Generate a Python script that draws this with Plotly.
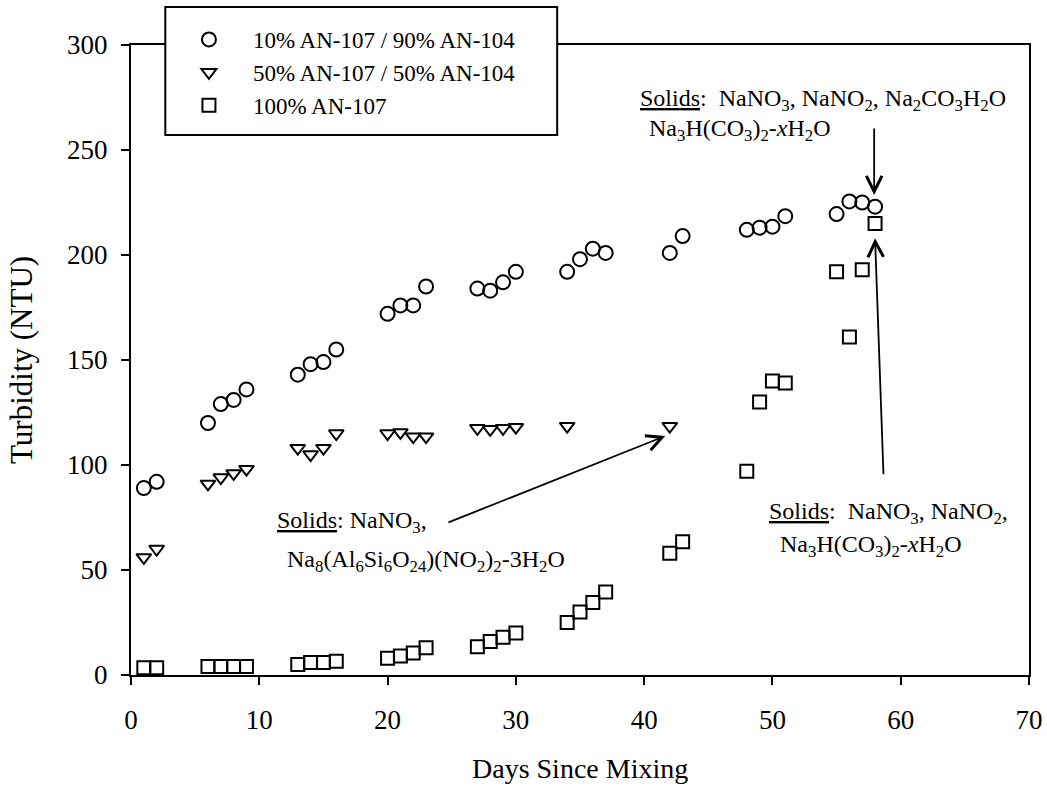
import plotly.graph_objects as go

# ---------------- data ----------------
days_10 = [1, 2, 6, 7, 8, 9, 13, 14, 15, 16, 20, 21, 22, 23, 27, 28, 29, 30,
           34, 35, 36, 37, 42, 43, 48, 49, 50, 51, 55, 56, 57, 58]
turb_10 = [89, 92, 120, 129, 131, 136, 143, 148, 149, 155, 172, 176, 176, 185,
           184, 183, 187, 192, 192, 198, 203, 201, 201, 209, 212, 213, 213.5,
           218.5, 219.5, 225.5, 225, 223]

days_50 = [1, 2, 6, 7, 8, 9, 13, 14, 15, 16, 20, 21, 22, 23, 27, 28, 29, 30,
           34, 42]
turb_50 = [56, 60, 91, 94, 96, 98, 108, 105, 108, 115, 115, 115.5, 113.5,
           113.5, 117.5, 117, 117.5, 118, 118.5, 118.5]

days_100 = [1, 2, 6, 7, 8, 9, 13, 14, 15, 16, 20, 21, 22, 23, 27, 28, 29, 30,
            34, 35, 36, 37, 42, 43, 48, 49, 50, 51, 55, 56, 57, 58]
turb_100 = [3.5, 3.5, 4, 4, 4, 4, 5, 6, 6, 6.5, 8, 9, 10.5, 13, 13.5, 16, 18,
            20, 25, 30, 34.5, 39.5, 58, 63.5, 97, 130, 140, 139, 192, 161,
            193, 215]

names = ["10% AN-107 / 90% AN-104", "50% AN-107 / 50% AN-104", "100% AN-107"]

x_ticks = [0, 10, 20, 30, 40, 50, 60, 70]
y_ticks = [0, 50, 100, 150, 200, 250, 300]

FONT = "Liberation Serif, Times New Roman, serif"

fig = go.Figure()
fig.add_trace(go.Scatter(x=days_10, y=turb_10, mode="markers", name=names[0],
                         cliponaxis=False,
                         marker=dict(symbol="circle-open", size=14, color="black",
                                     line=dict(width=2, color="black"))))
fig.add_trace(go.Scatter(x=days_50, y=turb_50, mode="markers", name=names[1],
                         cliponaxis=False,
                         marker=dict(symbol="triangle-down-open", size=13, color="black",
                                     line=dict(width=2, color="black"))))
fig.add_trace(go.Scatter(x=days_100, y=turb_100, mode="markers", name=names[2],
                         cliponaxis=False,
                         marker=dict(symbol="square-open", size=13, color="black",
                                     line=dict(width=2, color="black"))))

axis_common = dict(showline=True, linewidth=2, linecolor="black", mirror=True,
                   ticks="outside", ticklen=8, tickwidth=2, tickcolor="black",
                   showgrid=False, zeroline=False,
                   tickfont=dict(family=FONT, size=27, color="black"))

fig.update_xaxes(range=[0, 70], tickvals=x_ticks, ticklabelstandoff=12, **axis_common)
fig.update_yaxes(range=[0, 300], tickvals=y_ticks, ticklabelstandoff=8, **axis_common)

sub = lambda s: "<sub>" + s + "</sub>"
nb = "\u00a0"

texts = [
    # (text, x, y)
    ("<u>Solids</u>:" + nb + nb + "NaNO" + sub("3") + ", NaNO" + sub("2") + ", Na" + sub("2")
     + "CO" + sub("3") + "H" + sub("2") + "O", 39.53, 273.8),
    ("Na" + sub("3") + "H(CO" + sub("3") + ")" + sub("2") + "-<i>x</i>H" + sub("2") + "O",
     40.23, 259.5),
    ("<u>Solids</u>: NaNO" + sub("3") + ",", 11.24, 72.9),
    ("Na" + sub("8") + "(Al" + sub("6") + "Si" + sub("6") + "O" + sub("24") + ")(NO"
     + sub("2") + ")" + sub("2") + "-3H" + sub("2") + "O", 12.02, 54.3),
    ("<u>Solids</u>:" + nb + nb + "NaNO" + sub("3") + ", NaNO" + sub("2") + ",", 49.58, 77.1),
    ("Na" + sub("3") + "H(CO" + sub("3") + ")" + sub("2") + "-<i>x</i>H" + sub("2") + "O",
     50.44, 61.4),
]
annotations = []
for t, x, y in texts:
    annotations.append(dict(text=t, x=x, y=y, xref="x", yref="y", xanchor="left",
                            yanchor="middle", showarrow=False,
                            font=dict(family=FONT, size=24, color="black")))

arrows = [
    # (tail x, tail y, head x, head y)
    (24.63, 72.4, 41.65, 113.8),
    (57.93, 261.0, 57.93, 228.6),
    (58.66, 94.9, 58.0, 208.0),
]
for ax_, ay_, hx, hy in arrows:
    annotations.append(dict(text="", x=hx, y=hy, ax=ax_, ay=ay_, xref="x", yref="y",
                            axref="x", ayref="y", showarrow=True, arrowhead=5,
                            arrowsize=1.7, arrowwidth=1.8, arrowcolor="black",
                            standoff=0, startstandoff=0))

# axis titles
annotations.append(dict(text="Days Since Mixing", x=0.5, y=0, xref="paper", yref="paper",
                        xanchor="center", yanchor="middle", yshift=-93, showarrow=False,
                        font=dict(family=FONT, size=28, color="black")))
annotations.append(dict(text="Turbidity (NTU)", x=0, y=0.5, xref="paper", yref="paper",
                        xanchor="center", yanchor="middle", xshift=-110, textangle=-90,
                        showarrow=False, font=dict(family=FONT, size=31, color="black")))

fig.update_layout(
    width=1047, height=789,
    margin=dict(l=131, r=18, t=45, b=114, autoexpand=False),
    paper_bgcolor="white", plot_bgcolor="white",
    annotations=annotations,
    shapes=[dict(type="rect", xref="paper", yref="paper", x0=0.0382, x1=0.4746,
                 y0=0.857, y1=1.0603, fillcolor="white",
                 line=dict(color="black", width=2), layer="above")],
    legend=dict(x=0.0378, y=1.0429, xanchor="left", yanchor="top",
                bgcolor="rgba(0,0,0,0)", borderwidth=0, itemwidth=78,
                font=dict(family=FONT, size=23, color="black"),
                tracegroupgap=0),
    showlegend=True,
)

fig.write_html("out.html", config={"displayModeBar": False},
               post_script="document.body.style.margin='0';")
